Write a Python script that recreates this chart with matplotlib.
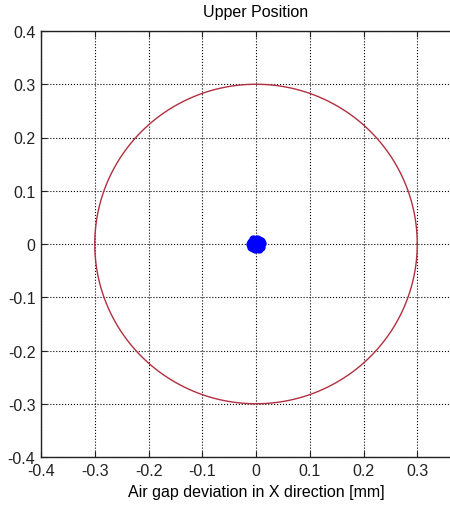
import numpy as np
import matplotlib
import matplotlib.pyplot as plt

matplotlib.use('Agg')

# axis settings
x_ticks = [-0.4, -0.3, -0.2, -0.1, 0.0, 0.1, 0.2, 0.3]
y_ticks = [-0.4, -0.3, -0.2, -0.1, 0.0, 0.1, 0.2, 0.3, 0.4]
tolerance_radius = 0.3

# measured air gap deviations [mm]
dev_x = [0.000, 0.004, -0.004, 0.008, -0.008, 0.010, -0.010, 0.006, -0.006,
         0.002, -0.002, 0.009, -0.009, 0.005, -0.005, 0.011, -0.011, 0.003]
dev_y = [0.000, 0.006, -0.006, 0.002, -0.002, -0.005, 0.004, -0.009, 0.009,
         0.010, -0.010, 0.006, -0.005, 0.008, -0.008, 0.001, 0.000, -0.003]

plt.rcParams['font.family'] = ['Liberation Sans', 'DejaVu Sans']

fig = plt.figure(figsize=(4.5, 5.06), dpi=100)
ax = fig.add_axes([41 / 450, 48 / 506, 430 / 450, 426 / 506])

# tolerance circle
theta = np.linspace(0, 2 * np.pi, 400)
ax.plot(tolerance_radius * np.cos(theta), tolerance_radius * np.sin(theta),
        color='#b03040', linewidth=1.0)

# measured points
ax.plot(dev_x, dev_y, linestyle='none', marker='o', markersize=5,
        color='#0000ff', markeredgecolor='#0000ff')

ax.set_xlim(-0.4, 0.4)
ax.set_ylim(-0.4, 0.4)
ax.set_xticks(x_ticks)
ax.set_yticks(y_ticks)
ax.set_xticklabels([f"{t:g}" for t in x_ticks])
ax.set_yticklabels([f"{t:g}" for t in y_ticks])

ax.grid(True, linestyle=':', color='black', linewidth=0.8)
ax.tick_params(direction='in', length=4, width=0.8, labelsize=11.5,
               top=True, right=True, colors='#222222', pad=4)
for spine in ax.spines.values():
    spine.set_linewidth(1.0)
    spine.set_color('#222222')

ax.set_title("Upper Position", fontsize=11.5, pad=11)
ax.set_xlabel("Air gap deviation in X direction [mm]", fontsize=11.5, labelpad=5)
ax.set_ylabel("Air gap deviation in Y direction [mm]", fontsize=11.5)
ax.yaxis.set_label_coords(-54 / 430, 0.5)

fig.savefig("out.png", dpi=100)
plt.close(fig)
